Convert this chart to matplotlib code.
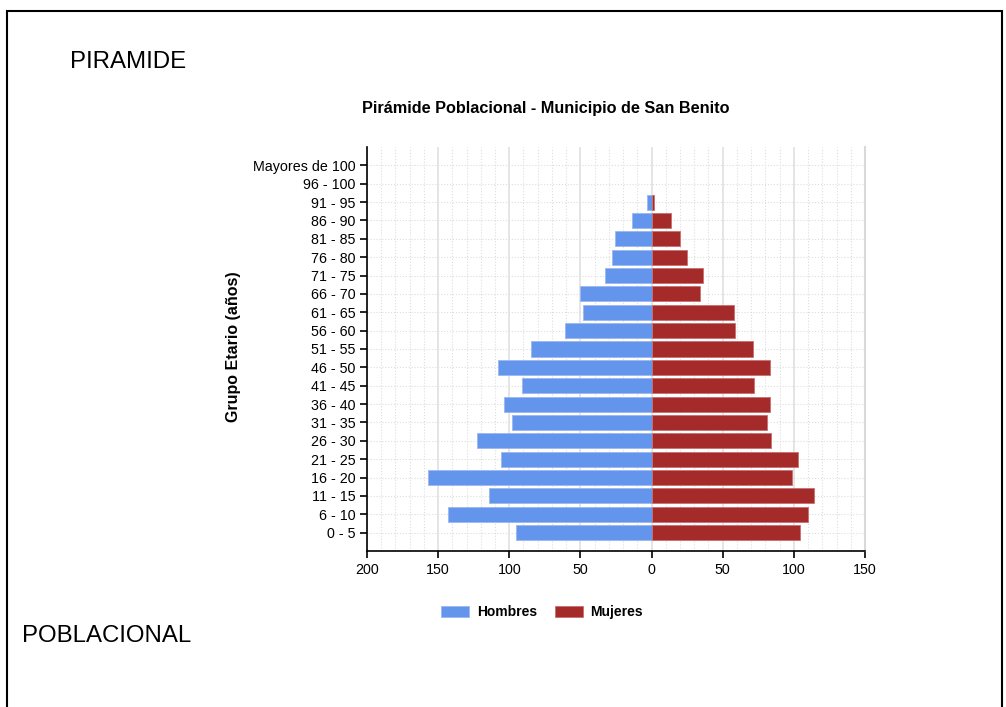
import numpy as np
import matplotlib.pyplot as plt
from matplotlib.patches import Rectangle

plt.rcParams['font.family'] = ['Liberation Sans', 'DejaVu Sans']

# Datos de la piramide
grupos = ['0 - 5', '6 - 10', '11 - 15', '16 - 20', '21 - 25', '26 - 30', '31 - 35',
          '36 - 40', '41 - 45', '46 - 50', '51 - 55', '56 - 60', '61 - 65', '66 - 70',
          '71 - 75', '76 - 80', '81 - 85', '86 - 90', '91 - 95', '96 - 100',
          'Mayores de 100']
hombres = [95, 143, 114, 157, 106, 123, 98, 104, 91, 108, 85, 61, 48, 50, 33, 28, 26, 14, 3, 0, 0]
mujeres = [104, 110, 114, 99, 103, 84, 81, 83, 72, 83, 71, 59, 58, 34, 36, 25, 20, 14, 2, 0, 0]
ticks_x = [-200, -150, -100, -50, 0, 50, 100, 150]

fig = plt.figure(figsize=(10.06, 7.07), dpi=100)

# Marco negro
fig.patches.append(Rectangle((0.007, -0.05), 0.989, 1.035, transform=fig.transFigure,
                             fill=False, edgecolor='black', linewidth=1.5))

fig.text(0.07, 0.912, 'PIRAMIDE', fontsize=17.3, va='center', ha='left')
fig.text(0.022, 0.1, 'POBLACIONAL', fontsize=17.3, va='center', ha='left')
fig.text(0.5425, 0.847, 'Pirámide Poblacional - Municipio de San Benito',
         fontsize=11.7, fontweight='bold', ha='center', va='center')
fig.text(0.232, 0.51, 'Grupo Etario (años)', fontsize=11.5, fontweight='bold',
         rotation=90, ha='center', va='center')

ax = fig.add_axes([0.3648, 0.2207, 0.495, 0.5714])
y = np.arange(len(grupos))
ax.barh(y, -np.array(hombres), height=0.82, color='#6495ED', edgecolor='#9bb8f0',
        linewidth=[0.6 if v else 0 for v in hombres], label='Hombres', zorder=3)
ax.barh(y, mujeres, height=0.82, color='#A52A2A', edgecolor='#c97070',
        linewidth=[0.6 if v else 0 for v in mujeres], label='Mujeres', zorder=3)

ax.set_xlim(-200, 150)
ax.set_ylim(-1, len(grupos))
ax.set_yticks(y)
ax.set_yticklabels(grupos, fontsize=10.3)
ax.set_xticks(ticks_x)
ax.set_xticklabels([str(abs(t)) for t in ticks_x], fontsize=10.3)
ax.set_xticks(np.arange(-190, 150, 10), minor=True)
ax.tick_params(axis='x', which='minor', length=0)
ax.tick_params(axis='both', which='major', length=5, width=1.2, direction='out')

ax.grid(True, axis='x', which='major', color='#e0e0e0', linewidth=1.2, zorder=0)
ax.grid(True, axis='x', which='minor', color='#dddddd', linestyle=':', linewidth=0.8, zorder=0)
ax.grid(True, axis='y', which='major', color='#dddddd', linestyle=':', linewidth=0.8, zorder=0)

ax.spines['top'].set_visible(False)
ax.spines['right'].set_color('#d9d9d9')
ax.spines['right'].set_linewidth(1.5)
ax.spines['left'].set_linewidth(1.2)
ax.spines['bottom'].set_linewidth(1.2)

leg = fig.legend(loc='center', bbox_to_anchor=(0.539, 0.134), ncol=2, frameon=False,
                 prop={'weight': 'bold', 'size': 10}, handlelength=2.0, handleheight=0.9,
                 columnspacing=1.3, handletextpad=0.55)

plt.savefig('out.png', dpi=100)
